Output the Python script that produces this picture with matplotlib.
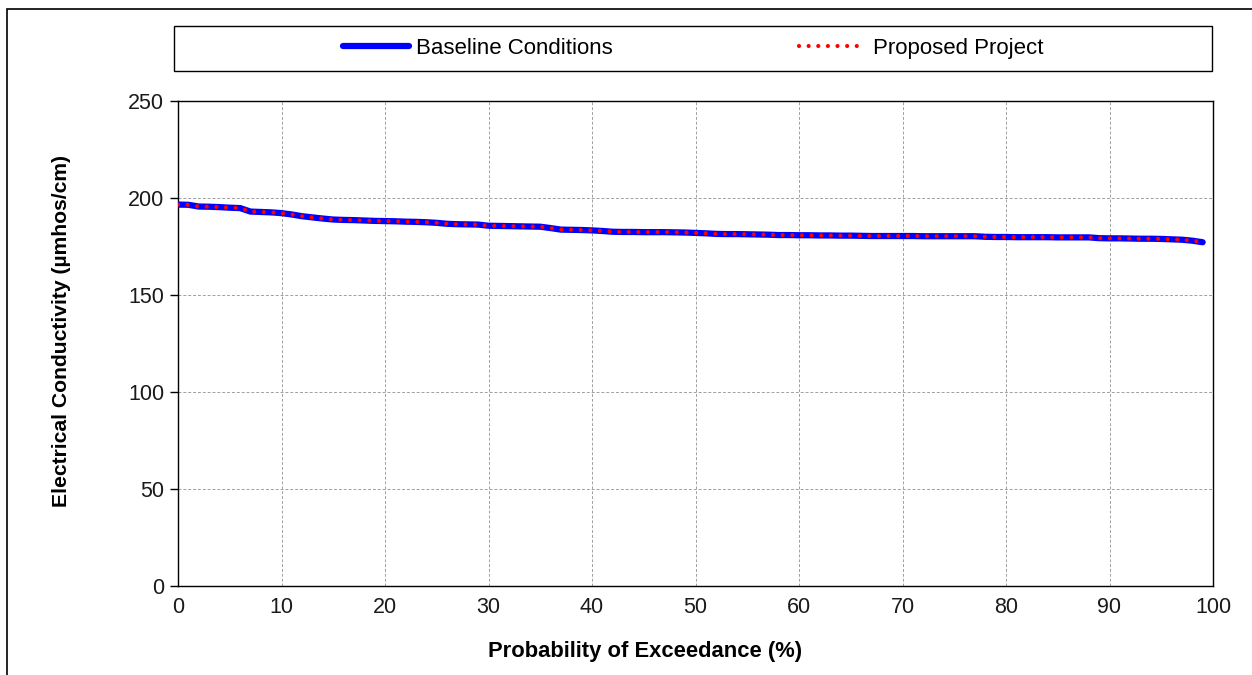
import matplotlib
matplotlib.use('Agg')
import matplotlib.pyplot as plt
from matplotlib.patches import Rectangle

plt.rcParams['font.family'] = ['Liberation Sans', 'DejaVu Sans']

# Probabilite de depassement (%) et conductivite (umhos/cm)
exceedance = list(range(0, 100))
baseline = [
    196.6, 196.5, 195.6, 195.5, 195.3, 195.0, 194.8, 193.0, 192.8, 192.6,
    192.2, 191.5, 190.6, 190.0, 189.4, 188.9, 188.7, 188.6, 188.4, 188.2,
    188.1, 188.0, 187.8, 187.7, 187.5, 187.2, 186.7, 186.5, 186.4, 186.3,
    185.7, 185.6, 185.5, 185.4, 185.3, 185.2, 184.5, 183.7, 183.6, 183.5,
    183.3, 183.0, 182.6, 182.5, 182.5, 182.4, 182.4, 182.4, 182.3, 182.2,
    182.0, 181.8, 181.5, 181.4, 181.4, 181.3, 181.2, 181.1, 180.9, 180.9,
    180.8, 180.8, 180.7, 180.7, 180.6, 180.6, 180.5, 180.4, 180.4, 180.4,
    180.4, 180.4, 180.3, 180.3, 180.3, 180.3, 180.3, 180.3, 180.0, 179.9,
    179.9, 179.8, 179.8, 179.8, 179.8, 179.7, 179.7, 179.7, 179.7, 179.3,
    179.2, 179.2, 179.1, 179.0, 179.0, 178.9, 178.7, 178.5, 178.0, 177.2,
]
proposed = [
    196.6, 196.5, 195.6, 195.5, 195.3, 195.0, 194.8, 193.0, 192.8, 192.6,
    192.2, 191.5, 190.6, 190.0, 189.4, 188.9, 188.7, 188.6, 188.4, 188.2,
    188.1, 188.0, 187.8, 187.7, 187.5, 187.2, 186.7, 186.5, 186.4, 186.3,
    185.7, 185.6, 185.5, 185.4, 185.3, 185.2, 184.5, 183.7, 183.6, 183.5,
    183.3, 183.0, 182.6, 182.5, 182.5, 182.4, 182.4, 182.4, 182.3, 182.2,
    182.0, 181.8, 181.5, 181.4, 181.4, 181.3, 181.2, 181.1, 180.9, 180.9,
    180.8, 180.8, 180.7, 180.7, 180.6, 180.6, 180.5, 180.4, 180.4, 180.4,
    180.4, 180.4, 180.3, 180.3, 180.3, 180.3, 180.3, 180.3, 180.0, 179.9,
    179.9, 179.8, 179.8, 179.8, 179.8, 179.7, 179.7, 179.7, 179.7, 179.3,
    179.2, 179.2, 179.1, 179.0, 179.0, 178.9, 178.7, 178.5, 178.0, 177.2,
]
x_ticks = [0, 10, 20, 30, 40, 50, 60, 70, 80, 90, 100]
y_ticks = [0, 50, 100, 150, 200, 250]

W, H = 1252, 675
fig = plt.figure(figsize=(W / 100, H / 100), dpi=100)

# zone de trace en pixels
left, right, top, bottom = 178, 1213, 101, 586
ax = fig.add_axes([left / W, 1 - bottom / H, (right - left) / W, (bottom - top) / H])

ax.plot(exceedance, baseline, color='#0000ff', lw=4.5, solid_capstyle='round',
        label='Baseline Conditions', zorder=3)
ax.plot(exceedance, proposed, color='#ff0000', lw=3.0, linestyle=(0, (0.01, 2.3)),
        dash_capstyle='round', label='Proposed Project', zorder=4)

ax.set_xlim(0, 100)
ax.set_ylim(0, 250)
ax.set_xticks(x_ticks)
ax.set_yticks(y_ticks)
ax.grid(True, color='#a0a0a0', linestyle=(0, (3, 2)), linewidth=0.7)
ax.set_axisbelow(True)
for sp in ax.spines.values():
    sp.set_color('black')
    sp.set_linewidth(1.0)
ax.tick_params(axis='y', direction='out', length=6, width=1, labelsize=15.5, pad=4)
ax.tick_params(axis='x', length=0, labelsize=15.5, pad=8)
for lab in ax.get_xticklabels() + ax.get_yticklabels():
    lab.set_color('#1a1a1a')

fig.text(645 / W, 1 - 651 / H, 'Probability of Exceedance (%)', fontsize=15.8,
         fontweight='bold', ha='center', va='center')
fig.text(62 / W, 1 - 331 / H, 'Electrical Conductivity (\u00b5mhos/cm)', fontsize=15.2,
         fontweight='bold', ha='center', va='center', rotation=90)

# cadre exterieur (coupe a droite et en bas)
fig.patches.append(Rectangle((6.5 / W, -0.1), 1.2, 1 - 8.5 / H + 0.1,
                             transform=fig.transFigure, fill=False,
                             edgecolor='black', lw=1.2))
# cadre de la legende
lx0, lx1, ly0, ly1 = 174, 1212, 26, 71
fig.patches.append(Rectangle((lx0 / W, 1 - ly1 / H), (lx1 - lx0) / W, (ly1 - ly0) / H,
                             transform=fig.transFigure, fill=False,
                             edgecolor='black', lw=1.0))
handles, labels = ax.get_legend_handles_labels()
fig.legend(handles, labels, loc='center', ncol=2, frameon=False, fontsize=16,
           bbox_to_anchor=((lx0 + lx1) / 2 / W, 1 - (ly0 + ly1) / 2 / H),
           handlelength=3.0, handletextpad=0.3, columnspacing=8.4)

fig.savefig('out.png', dpi=100)
